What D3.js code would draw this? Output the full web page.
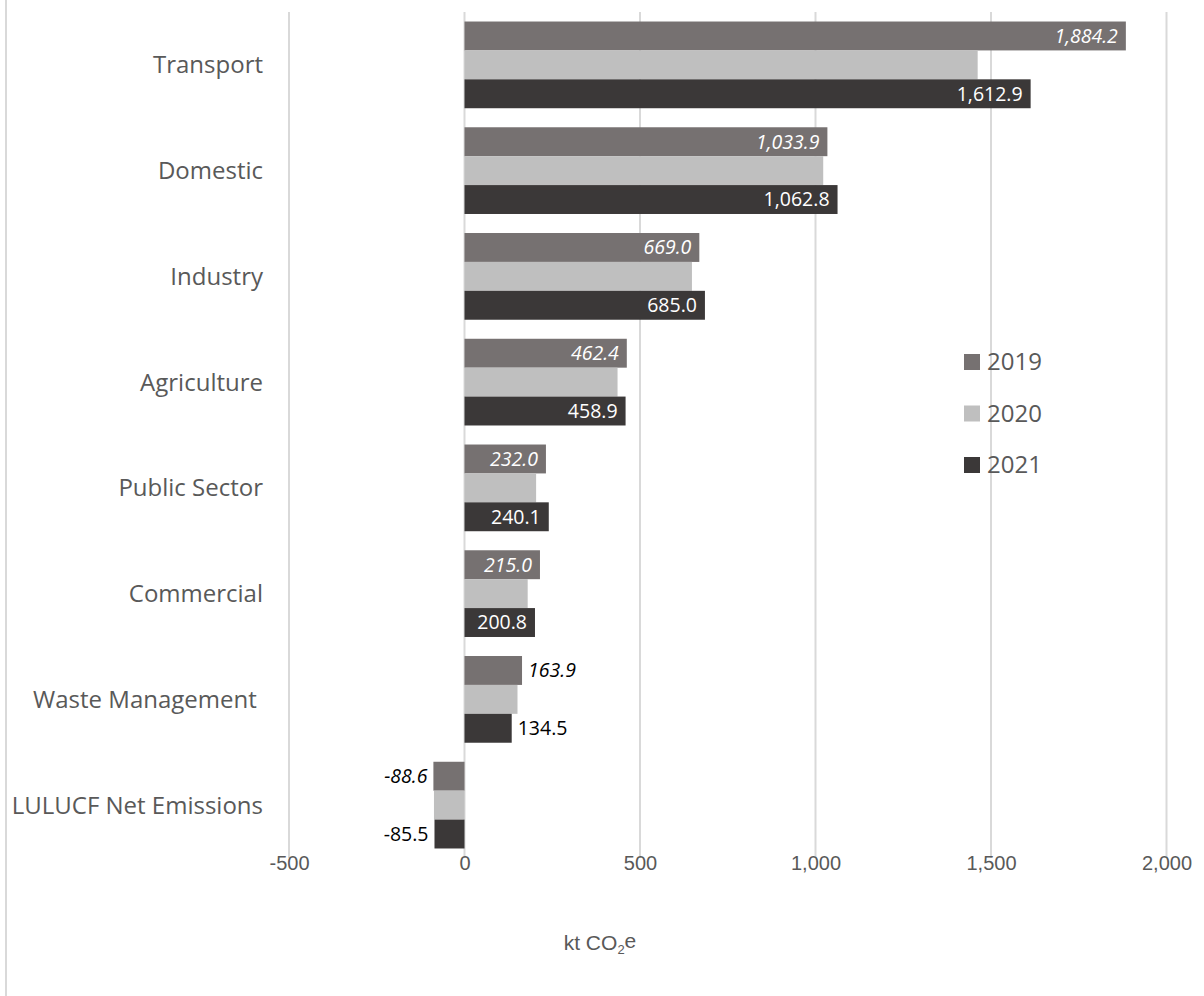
<!DOCTYPE html>
<html>
<head>
<meta charset="utf-8">
<script src="https://cdn.jsdelivr.net/npm/d3@7/dist/d3.min.js"></script>
<style>
  html, body { margin: 0; padding: 0; background: #fff; }
  svg { display: block; }
</style>
</head>
<body>
<svg id="chart" width="1204" height="996"></svg>
<script>
const categories = ["Transport", "Domestic", "Industry", "Agriculture", "Public Sector", "Commercial", "Waste Management ", "LULUCF Net Emissions"];
const years = ["2019", "2020", "2021"];
const values2019 = [1884.2, 1033.9, 669.0, 462.4, 232.0, 215.0, 163.9, -88.6];
const values2020 = [1462, 1022, 648, 436, 204, 180, 151, -87];
const values2021 = [1612.9, 1062.8, 685.0, 458.9, 240.1, 200.8, 134.5, -85.5];
const xTicks = [-500, 0, 500, 1000, 1500, 2000];
const colors = ["#767171", "#bfbfbf", "#3b3838"];
const axisTitle = "kt CO";

const seriesValues = [values2019, values2020, values2021];
const labelled = [true, false, true];
const italic = [true, false, false];

const svg = d3.select("#chart");
const textColor = "#595959";
const gridColor = "#d9d9d9";

const locale = d3.formatLocale({ decimal: ".", thousands: ",", grouping: [3], currency: ["", ""], minus: "-" });

const x = d3.scaleLinear().domain([-500, 2000]).range([289, 1166.5]);
const y = d3.scaleBand().domain(categories).range([12, 858]).paddingInner(0.18).paddingOuter(0.09);
const ySub = d3.scaleBand().domain(years).range([0, y.bandwidth()]);

// left border line
svg.append("line").attr("x1", 6).attr("x2", 6).attr("y1", 0).attr("y2", 996)
  .attr("stroke", gridColor).attr("stroke-width", 2);

// gridlines
svg.append("g").selectAll("line").data(xTicks).join("line")
  .attr("x1", d => x(d)).attr("x2", d => x(d))
  .attr("y1", 12).attr("y2", 858)
  .attr("stroke", gridColor).attr("stroke-width", 2);

// x tick labels via axis
const xAxis = d3.axisBottom(x).tickValues(xTicks).tickSize(0).tickPadding(0)
  .tickFormat(locale.format(","));
const gx = svg.append("g").attr("transform", "translate(0,863)").call(xAxis);
gx.select(".domain").remove();
gx.selectAll("text")
  .attr("fill", textColor)
  .attr("font-family", "'Liberation Sans Narrow', 'Liberation Sans', sans-serif")
  .attr("font-size", 20)
  .attr("dy", "0.35em")
  .attr("y", 0);

// category labels via axis
const yAxis = d3.axisLeft(y).tickSize(0).tickPadding(0);
const gy = svg.append("g").attr("transform", "translate(263,0)").call(yAxis);
gy.select(".domain").remove();
gy.selectAll("text")
  .attr("fill", textColor)
  .attr("font-family", "'Open Sans', sans-serif")
  .attr("font-size", 24)
  .style("white-space", "pre")
  .attr("dy", "0.35em");

// bars
const fmt = locale.format(",.1f");
years.forEach((yr, si) => {
  const g = svg.append("g");
  const data = categories.map((c, i) => ({ c, v: seriesValues[si][i] }));
  g.selectAll("rect").data(data).join("rect")
    .attr("x", d => x(Math.min(0, d.v)))
    .attr("width", d => Math.abs(x(d.v) - x(0)))
    .attr("y", d => y(d.c) + ySub(yr))
    .attr("height", ySub.bandwidth())
    .attr("fill", colors[si]);

  if (labelled[si]) {
    g.selectAll("text").data(data).join("text")
      .each(function(d) {
        const w = Math.abs(x(d.v) - x(0));
        const inside = w > 65;
        const t = d3.select(this);
        const cy = y(d.c) + ySub(yr) + ySub.bandwidth() / 2;
        if (inside) {
          t.attr("x", x(d.v) - 8).attr("text-anchor", "end").attr("fill", "#ffffff");
        } else if (d.v >= 0) {
          t.attr("x", x(d.v) + 6).attr("text-anchor", "start").attr("fill", "#000000");
        } else {
          t.attr("x", x(d.v) - 6).attr("text-anchor", "end").attr("fill", "#000000");
        }
        t.attr("y", cy).attr("dy", "0.35em");
      })
      .attr("font-family", "'Open Sans', sans-serif")
      .attr("font-size", 19.5)
      .attr("font-style", italic[si] ? "italic" : "normal")
      .text(d => fmt(d.v));
  }
});

// legend
const legendY = [362, 413.5, 465];
const lg = svg.append("g");
years.forEach((yr, i) => {
  lg.append("rect").attr("x", 964).attr("y", legendY[i] - 8).attr("width", 16).attr("height", 16)
    .attr("fill", colors[i]);
  lg.append("text").attr("x", 987).attr("y", legendY[i]).attr("dy", "0.35em")
    .attr("fill", textColor)
    .attr("font-family", "'Open Sans', sans-serif")
    .attr("font-size", 24)
    .text(yr);
});

// axis title
const at = svg.append("text").attr("x", 600).attr("y", 943).attr("dy", "0.35em")
  .attr("text-anchor", "middle")
  .attr("fill", textColor)
  .attr("font-family", "'Liberation Sans Narrow', 'Liberation Sans', sans-serif")
  .attr("font-size", 21);
at.append("tspan").text(axisTitle);
at.append("tspan").attr("font-size", 13).attr("dy", "0.3em").text("2");
at.append("tspan").attr("dy", "-0.3em").text("e");
</script>
</body>
</html>
